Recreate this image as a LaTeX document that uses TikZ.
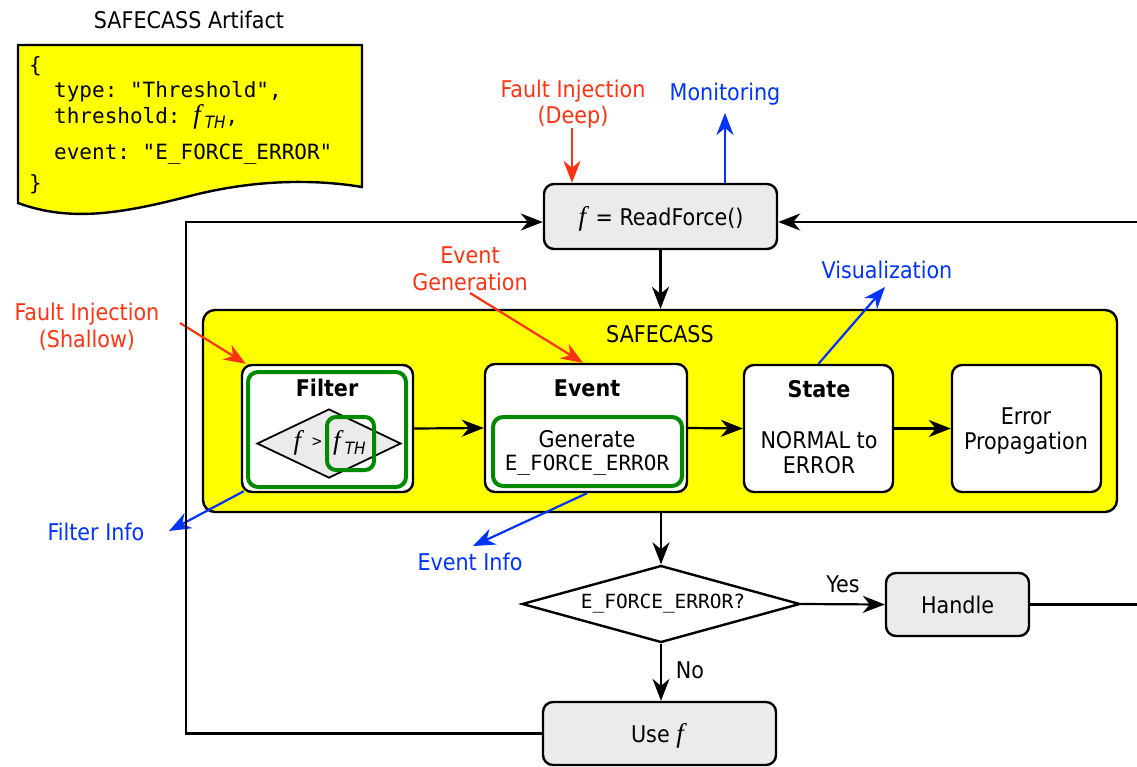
\documentclass[tikz,border=0pt]{standalone}
\usepackage{fontspec}
\setmainfont{DejaVu Sans Condensed}
\setmonofont{DejaVu Sans Mono}
\newfontfamily\ffam{Liberation Serif}
\usetikzlibrary{arrows.meta,shapes.geometric}
\definecolor{fired}{HTML}{FF3311}
\definecolor{moblue}{HTML}{0033FF}
\definecolor{sfyellow}{HTML}{FFFF00}
\definecolor{sfgreen}{HTML}{008A00}
\definecolor{boxgray}{HTML}{EBEBEB}
\newcommand{\fv}{{\fontsize{27}{27}\ffam\itshape f\/}}
\newcommand{\fTH}{\fv\kern1pt\raisebox{-5pt}{\fontsize{17}{17}\selectfont\rmfamily\itshape TH}}
\begin{document}
\begin{tikzpicture}[x=1pt,y=-1pt,
  lbl/.style={inner sep=0pt, anchor=base, font=\fontsize{23}{27}\selectfont},
  boldlbl/.style={lbl, font=\fontsize{23}{27}\selectfont\bfseries},
  monolbl/.style={lbl, font=\fontsize{21}{26}\selectfont\ttfamily},
  redlbl/.style={lbl, text=fired},
  bluelbl/.style={lbl, text=moblue},
  boxw/.style={draw, line width=2.4pt, rounded corners=10pt, inner sep=0pt, fill=white},
  boxg/.style={boxw, fill=boxgray},
  grn/.style={draw=sfgreen, line width=4pt, rounded corners=10pt, inner sep=0pt},
  arr/.style={line width=2.2pt, -{Stealth[length=22pt,width=17pt,inset=7pt]}},
  redarr/.style={arr, color=fired},
  bluearr/.style={arr, color=moblue},
  plainline/.style={line width=2.2pt}]
\useasboundingbox (0,0) rectangle (1137,766);

% artifact
\node[lbl] (arttitle) at (189,28) {SAFECASS Artifact};
\draw[line width=2.4pt, fill=sfyellow] (18,45) -- (362,45) -- (362,187)
  .. controls (320,180) and (260,178) .. (190,196)
  .. controls (120,214) and (70,222) .. (18,203) -- cycle;
\node[monolbl, anchor=base west] (a1) at (29,72) {\{};
\node[monolbl, anchor=base west] (a2) at (54,97) {type: "Threshold",};
\node[monolbl, anchor=base west] (a3) at (54,123) {threshold: \fTH,};
\node[monolbl, anchor=base west] (a4) at (54,159) {event: "E\_FORCE\_ERROR"};
\node[monolbl, anchor=base west] (a5) at (29,190) {\}};

% ReadForce
\node[boxg, minimum width=233pt, minimum height=65pt] (read) at (660.5,216.5) {};
\node[lbl] (readtxt) at (661,225) {\fv{} = ReadForce()};

% container
\node[draw, line width=2.4pt, fill=sfyellow, rounded corners=12pt, inner sep=0pt,
  minimum width=914pt, minimum height=202pt] (safe) at (660,411) {};
\node[lbl] (safetitle) at (660,342) {SAFECASS};

% Filter
\node[boxw, minimum width=171pt, minimum height=127pt] (filter) at (327.5,428.5) {};
\node[grn, minimum width=158pt, minimum height=115pt] (filterg) at (327,429.5) {};
\node[boldlbl] (filtertitle) at (327,396) {Filter};
\node[draw, line width=1.8pt, fill=boxgray, diamond, inner sep=0pt,
  minimum width=144pt, minimum height=69pt] (cmp) at (329,443.5) {};
\node[lbl] (cf) at (299,449) {\fv};
\node[lbl, font=\fontsize{15}{15}\selectfont] (cgt) at (317,446) {>};
\node[grn, rounded corners=9pt, minimum width=47pt, minimum height=53pt] (thg) at (350.5,443.5) {};
\node[lbl, anchor=base west] (cth) at (333,449) {\fTH};

% Event
\node[boxw, minimum width=202pt, minimum height=128pt] (event) at (586,428) {};
\node[boldlbl] (eventtitle) at (587,396) {Event};
\node[grn, minimum width=189pt, minimum height=69pt] (eventg) at (587.5,451.5) {};
\node[lbl] (gen1) at (587,447) {Generate};
\node[monolbl] (gen2) at (587,470) {E\_FORCE\_ERROR};

% State
\node[boxw, minimum width=149pt, minimum height=127pt] (state) at (818.5,428.5) {};
\node[boldlbl] (statetitle) at (819,397) {State};
\node[lbl] (st1) at (819,448) {NORMAL to};
\node[lbl] (st2) at (819,473) {ERROR};

% Error propagation
\node[boxw, minimum width=149pt, minimum height=127pt] (ep) at (1026.5,428.5) {};
\node[lbl] (ep1) at (1026,424) {Error};
\node[lbl] (ep2) at (1026,449) {Propagation};

% decision
\node[draw, line width=2.4pt, diamond, fill=white, inner sep=0pt,
  minimum width=278pt, minimum height=77pt] (dec) at (661,604) {};
\node[lbl, font=\fontsize{19.5}{24}\selectfont\ttfamily] (dectxt) at (663,608) {E\_FORCE\_ERROR?};

% Handle
\node[boxg, minimum width=143pt, minimum height=63pt] (handle) at (957.5,604.5) {};
\node[lbl] (handletxt) at (957.5,613) {Handle};

% Use f
\node[boxg, minimum width=233pt, minimum height=63pt] (use) at (659.5,733.5) {};
\node[lbl] (usetxt) at (659,742) {Use \fv};

% labels
\node[redlbl] (fid1) at (573,97) {Fault Injection};
\node[redlbl] (fid2) at (573,123) {(Deep)};
\node[bluelbl] (mon) at (725,100) {Monitoring};
\node[redlbl] (eg1) at (470,263) {Event};
\node[redlbl] (eg2) at (470,290) {Generation};
\node[redlbl] (fis1) at (87,320) {Fault Injection};
\node[redlbl] (fis2) at (87,347) {(Shallow)};
\node[bluelbl] (vis) at (887,278) {Visualization};
\node[bluelbl] (finfo) at (96,540) {Filter Info};
\node[bluelbl] (einfo) at (470,570) {Event Info};
\node[lbl] (yes) at (843,592) {Yes};
\node[lbl] (no) at (690,678) {No};

% connectors
\coordinate (fidtail) at (572,128);
\draw[redarr] (fidtail) -- (fidtail |- read.north);
\coordinate (montip) at (725,113);
\draw[bluearr] (montip |- read.north) -- (montip);
\draw[arr] (read.south) -- (read.south |- safe.north);
\coordinate (egtail) at (470,293);
\draw[redarr] (egtail) -- ([xshift=-3pt]event.north);
\coordinate (fistail) at (180,323);
\draw[redarr] (fistail) -- ([xshift=5pt]filter.north west);
\coordinate (vistip) at (885,287);
\draw[bluearr] (state.north) -- (vistip);
\coordinate (fitip) at (169,531);
\draw[bluearr] ([xshift=3pt,yshift=2pt]filter.south west) -- (fitip);
\coordinate (eitip) at (473,546);
\draw[bluearr] ([xshift=1pt]event.south) -- (eitip);
\draw[arr] (filter.east) -- (event.west);
\draw[arr] (event.east) -- (state.west);
\draw[arr] (state.east) -- (ep.west);
\draw[arr] (dec.north |- safe.south) -- (dec.north);
\draw[arr] (dec.east) -- (handle.west);
\draw[arr] (dec.south) -- (dec.south |- use.north);
\coordinate (rb) at (1137,604.5);
\draw[plainline] (handle.east) -- (rb);
\coordinate (rt) at (1137,222);
\draw[arr] (rt) -- ([yshift=-5.5pt]read.east);
\coordinate (lc) at (186,222);
\draw[arr] (use.west) -| (lc) -- ([yshift=-5.5pt]read.west);
\end{tikzpicture}
\end{document}
